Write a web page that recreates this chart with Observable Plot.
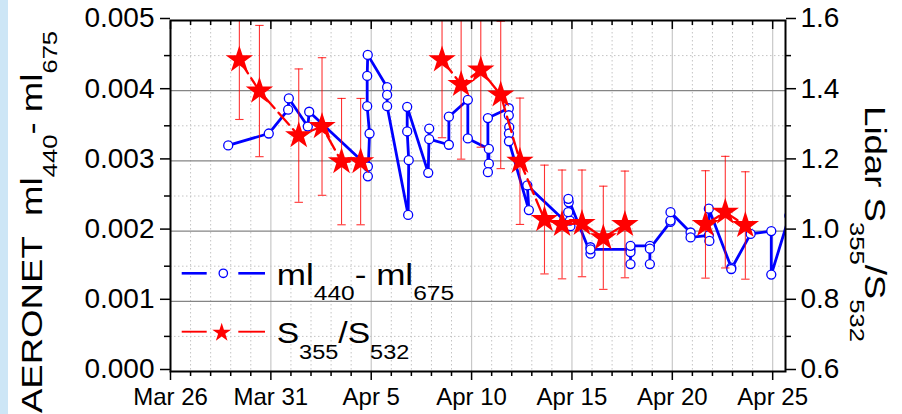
<!DOCTYPE html>
<html><head><meta charset="utf-8">
<script src="https://cdn.jsdelivr.net/npm/d3@7"></script>
<script src="https://cdn.jsdelivr.net/npm/@observablehq/plot@0.6"></script>
<style>
html,body{margin:0;padding:0;background:#fff;}
#chart{width:902px;height:414px;}
</style></head><body><div id="chart"></div>
<script>
// ---- AERONET ml440 - ml675 (left axis) ----
const aeroTimes = [
 "2012-03-28T21:00","2012-03-30T21:30","2012-03-31T20:40","2012-03-31T21:30",
 "2012-04-01T20:10","2012-04-01T21:50",
 "2012-04-04T20:00","2012-04-04T20:00","2012-04-04T22:00","2012-04-04T19:10","2012-04-04T19:10","2012-04-04T19:50",
 "2012-04-05T19:00","2012-04-05T19:00","2012-04-05T19:00",
 "2012-04-06T20:10","2012-04-06T20:50","2012-04-06T19:00","2012-04-06T19:00",
 "2012-04-07T20:10","2012-04-07T21:20","2012-04-07T21:20",
 "2012-04-08T20:50","2012-04-08T20:50",
 "2012-04-09T19:30","2012-04-09T19:30",
 "2012-04-10T20:40","2012-04-10T20:40","2012-04-10T19:30","2012-04-10T19:30",
 "2012-04-11T20:30","2012-04-11T20:30","2012-04-11T21:00","2012-04-11T20:40","2012-04-11T20:40",
 "2012-04-12T20:30","2012-04-12T18:40",
 "2012-04-14T22:10","2012-04-14T21:30","2012-04-14T19:30","2012-04-14T20:10","2012-04-14T19:40",
 "2012-04-15T22:10","2012-04-15T22:10","2012-04-15T22:10",
 "2012-04-17T22:00","2012-04-17T22:00","2012-04-17T22:00","2012-04-17T22:00",
 "2012-04-18T21:10","2012-04-18T21:10","2012-04-18T21:10",
 "2012-04-19T21:50","2012-04-19T21:50","2012-04-19T21:50",
 "2012-04-20T21:50","2012-04-20T21:50",
 "2012-04-21T19:40","2012-04-21T20:20","2012-04-21T19:40",
 "2012-04-22T22:30","2012-04-22T22:30",
 "2012-04-23T21:40",
 "2012-04-24T22:20","2012-04-24T22:20",
 "2012-04-25T20:00"
];
const aeroValues = [
 0.00322,0.00339,0.00373,0.00389,
 0.00349,0.00370,
 0.00292,0.00278,0.00339,0.00378,0.00421,0.00451,
 0.00405,0.00394,0.00378,
 0.00223,0.00301,0.00342,0.00377,
 0.00283,0.00346,0.00331,
 0.00323,0.00363,
 0.00387,0.00332,
 0.00317,0.00296,0.00284,0.00361,
 0.00375,0.00365,0.00348,0.00339,0.00328,
 0.00230,0.00265,
 0.00207,0.00215,0.00227,0.00241,0.00246,
 0.00168,0.00177,0.00174,
 0.00174,0.00170,0.00153,0.00179,
 0.00179,0.00153,0.00175,
 0.00213,0.00215,0.00227,
 0.00198,0.00191,
 0.00194,0.00186,0.00232,
 0.00148,0.00146,
 0.00196,
 0.00200,0.00138,
 0.00222
];

// ---- Lidar S355/S532 (right axis) ----
const lidarTimes = [
 "2012-03-29T10:20","2012-03-30T10:20","2012-04-01T09:20","2012-04-02T13:10","2012-04-03T12:30","2012-04-04T11:20",
 "2012-04-08T12:40","2012-04-09T11:30","2012-04-10T11:00","2012-04-11T10:50","2012-04-12T09:50",
 "2012-04-13T15:10","2012-04-14T12:10","2012-04-15T12:00","2012-04-16T13:30","2012-04-17T15:20",
 "2012-04-21T15:40","2012-04-22T15:20","2012-04-23T15:20"
];
const lidarRatio = [1.488,1.399,1.272,1.298,1.198,1.198, 1.488,1.418,1.459,1.388,1.199, 1.033,1.019,1.022,0.981,1.019, 1.019,1.054,1.016];
const lidarError = [0.170,0.187,0.190,0.196,0.180,0.180, 0.222,0.213,0.220,0.210,0.180, 0.155,0.155,0.152,0.147,0.152, 0.153,0.159,0.153];
const lidarSegment = [1,1,1,1,1,1, 2,2,2,2,2, 2,2,2,2,2, 3,3,3];

// ---- axes ----
const xDomain = ["2012-03-26T00:00","2012-04-25T15:20"];
const xTickLabels = ["Mar 26","Mar 31","Apr 5","Apr 10","Apr 15","Apr 20","Apr 25"];
const leftTicks = [0,0.001,0.002,0.003,0.004,0.005];
const leftTickLabels = ["0.000","0.001","0.002","0.003","0.004","0.005"];
const leftMinorTicks = [0.0005,0.0015,0.0025,0.0035,0.0045];
const rightTicks = [0.6,0.8,1.0,1.2,1.4,1.6];
const rightTickLabels = ["0.6","0.8","1.0","1.2","1.4","1.6"];
const rightMinorTicks = [0.7,0.9,1.1,1.3,1.5];
const rightDomain = [0.6,1.6];

const FONT = "'Liberation Sans', Arial, Helvetica, sans-serif";
const parseT = d3.utcParse("%Y-%m-%dT%H:%M");
const parseLabel = d3.utcParse("%b %d %Y");
const majorDates = xTickLabels.map(s => parseLabel(s + " 2012"));
const allDays = d3.utcDay.range(parseT(xDomain[0]), parseT(xDomain[1]));
const minorDates = allDays.filter(d => !majorDates.some(m => +m === +d));
const gridMajorDates = majorDates.slice(1);

// map right-axis values onto the left-axis scale units
const leftMax = leftTicks[leftTicks.length - 1];
const toLeft = v => (v - rightDomain[0]) / (rightDomain[1] - rightDomain[0]) * leftMax;

const aero = aeroTimes.map((t, i) => ({t: parseT(t), v: aeroValues[i]}));
const lidar = lidarTimes.map((t, i) => ({
  t: parseT(t), y: toLeft(lidarRatio[i]),
  lo: toLeft(lidarRatio[i] - lidarError[i]), hi: toLeft(lidarRatio[i] + lidarError[i]),
  seg: lidarSegment[i]
}));

const capSymbol = {draw(ctx, size) { const w = Math.sqrt(size / Math.PI); ctx.moveTo(-w, 0); ctx.lineTo(w, 0); }};

const plot = Plot.plot({
  width: 902, height: 414,
  marginLeft: 170, marginRight: 117, marginTop: 20, marginBottom: 43,
  style: {fontFamily: FONT, color: "black", background: "transparent", overflow: "visible"},
  x: {type: "utc", domain: xDomain.map(parseT)},
  y: {domain: [0, leftMax]},
  marks: [
    Plot.gridX(minorDates, {stroke: "#c4c4c4", strokeOpacity: 1, strokeDasharray: "1.5,2.5"}),
    Plot.gridY(leftMinorTicks, {stroke: "#c4c4c4", strokeOpacity: 1, strokeDasharray: "1.5,2.5"}),
    Plot.gridX(gridMajorDates, {stroke: "#c8c8c8", strokeOpacity: 1, strokeWidth: 1.2}),
    Plot.gridY(leftTicks.slice(1, -1), {stroke: "#858585", strokeOpacity: 1, strokeWidth: 1.2}),
    // AERONET
    Plot.line(aero, {x: "t", y: "v", stroke: "#0000ff", strokeWidth: 2.8, clip: true}),
    Plot.dot(aero, {x: "t", y: "v", r: 4.5, fill: "white", stroke: "#0000ff", strokeWidth: 1.3, clip: true}),
    // Lidar
    Plot.ruleX(lidar, {x: "t", y1: "lo", y2: "hi", stroke: "#ff0000", strokeOpacity: 0.8, strokeWidth: 1.1, clip: true}),
    Plot.dot(lidar, {x: "t", y: "hi", symbol: capSymbol, r: 4.2, fill: "none", stroke: "#ff0000", strokeOpacity: 0.8, strokeWidth: 1.1, clip: true}),
    Plot.dot(lidar, {x: "t", y: "lo", symbol: capSymbol, r: 4.2, fill: "none", stroke: "#ff0000", strokeOpacity: 0.8, strokeWidth: 1.1, clip: true}),
    Plot.line(lidar, {x: "t", y: "y", z: "seg", stroke: "#ff0000", strokeWidth: 2.3, strokeDasharray: "16,6", clip: true}),
    Plot.dot(lidar, {x: "t", y: "y", symbol: "star", r: 8.6, fill: "#ff0000", clip: true}),
    // axes
    Plot.axisX(majorDates, {anchor: "bottom", tickSize: 9, tickPadding: 7, fontSize: 24, strokeWidth: 1.5, label: null,
      tickFormat: d => xTickLabels[majorDates.findIndex(m => +m === +d)]}),
    Plot.axisX(minorDates, {anchor: "bottom", tickSize: 5, strokeWidth: 1.5, label: null, tickFormat: () => ""}),
    Plot.axisX(majorDates, {anchor: "top", tickSize: -8, strokeWidth: 1.5, label: null, tickFormat: () => ""}),
    Plot.axisX(minorDates, {anchor: "top", tickSize: -4, strokeWidth: 1.5, label: null, tickFormat: () => ""}),
    Plot.axisY(leftTicks, {anchor: "left", tickSize: 10, tickPadding: 6, fontSize: 28, dy: -2, strokeWidth: 1.5, label: null,
      tickFormat: d => leftTickLabels[leftTicks.indexOf(d)]}),
    Plot.axisY(leftMinorTicks, {anchor: "left", tickSize: 6, strokeWidth: 1.5, label: null, tickFormat: () => ""}),
    Plot.axisY(rightTicks.map(toLeft), {anchor: "right", tickSize: 10, tickPadding: 5, fontSize: 28, dy: -2, strokeWidth: 1.5, label: null,
      tickFormat: (d) => rightTickLabels[d3.leastIndex(rightTicks, r => Math.abs(toLeft(r) - d))]}),
    Plot.axisY(rightMinorTicks.map(toLeft), {anchor: "right", tickSize: 5, strokeWidth: 1.5, label: null, tickFormat: () => ""}),
    Plot.frame({stroke: "black", strokeWidth: 2})
  ]
});

const svg = d3.select(plot);
svg.insert("rect", ":first-child").attr("x", 0).attr("y", 0).attr("width", 8).attr("height", 414).attr("fill", "#cde6f6");

function subText(g, parts, size, subSize, shift) {
  const t = g.append("text").attr("font-family", FONT).attr("font-size", size).attr("fill", "black").attr("text-anchor", "start");
  let down = false;
  for (const [s, isSub] of parts) {
    const ts = t.append("tspan").text(s);
    if (isSub && !down) { ts.attr("dy", shift).attr("font-size", subSize); down = true; }
    else if (!isSub && down) { ts.attr("dy", -shift); down = false; }
    else if (isSub) ts.attr("font-size", subSize);
  }
  return t;
}

// left title
const lt = svg.append("g").attr("transform", "translate(42,222) rotate(-90) scale(1.22,1)");
subText(lt, [["AERONET\u00a0\u00a0ml", false], ["440", true], ["-\u00a0ml", false], ["675", true]], 30, 21, 15)
  .attr("text-anchor", "middle");
// right title
const rt = svg.append("g").attr("transform", "translate(865,224) rotate(90) scale(1.22,1)");
subText(rt, [["Lidar\u00a0S", false], ["355", true], ["/S", false], ["532", true]], 30, 21, 15)
  .attr("text-anchor", "middle");

// legend
const lg = svg.append("g");
const rowBlue = 273.3, rowRed = 331.7;
lg.append("line").attr("x1", 181.7).attr("x2", 206.7).attr("y1", rowBlue).attr("y2", rowBlue).attr("stroke", "#0000ff").attr("stroke-width", 2.6);
lg.append("line").attr("x1", 238.3).attr("x2", 265).attr("y1", rowBlue).attr("y2", rowBlue).attr("stroke", "#0000ff").attr("stroke-width", 2.6);
lg.append("circle").attr("cx", 223.3).attr("cy", rowBlue).attr("r", 4.2).attr("fill", "white").attr("stroke", "#0000ff").attr("stroke-width", 1.3);
lg.append("line").attr("x1", 181.7).attr("x2", 206.7).attr("y1", rowRed).attr("y2", rowRed).attr("stroke", "#ff0000").attr("stroke-width", 1.9);
lg.append("line").attr("x1", 238.3).attr("x2", 265).attr("y1", rowRed).attr("y2", rowRed).attr("stroke", "#ff0000").attr("stroke-width", 1.9);
lg.append("path").attr("transform", `translate(221.7,${rowRed + 1})`).attr("d", d3.symbol(d3.symbolStar, 110)()).attr("fill", "#ff0000");
const l1 = lg.append("g").attr("transform", "translate(276.7,285) scale(1.17,1)");
subText(l1, [["ml", false], ["440", true], ["-\u00a0ml", false], ["675", true]], 30, 21, 15);
const l2 = lg.append("g").attr("transform", "translate(276.7,343.3) scale(1.12,1)");
subText(l2, [["S", false], ["355", true], ["/S", false], ["532", true]], 30, 21, 16);

document.getElementById("chart").appendChild(plot);
</script>
</body></html>
